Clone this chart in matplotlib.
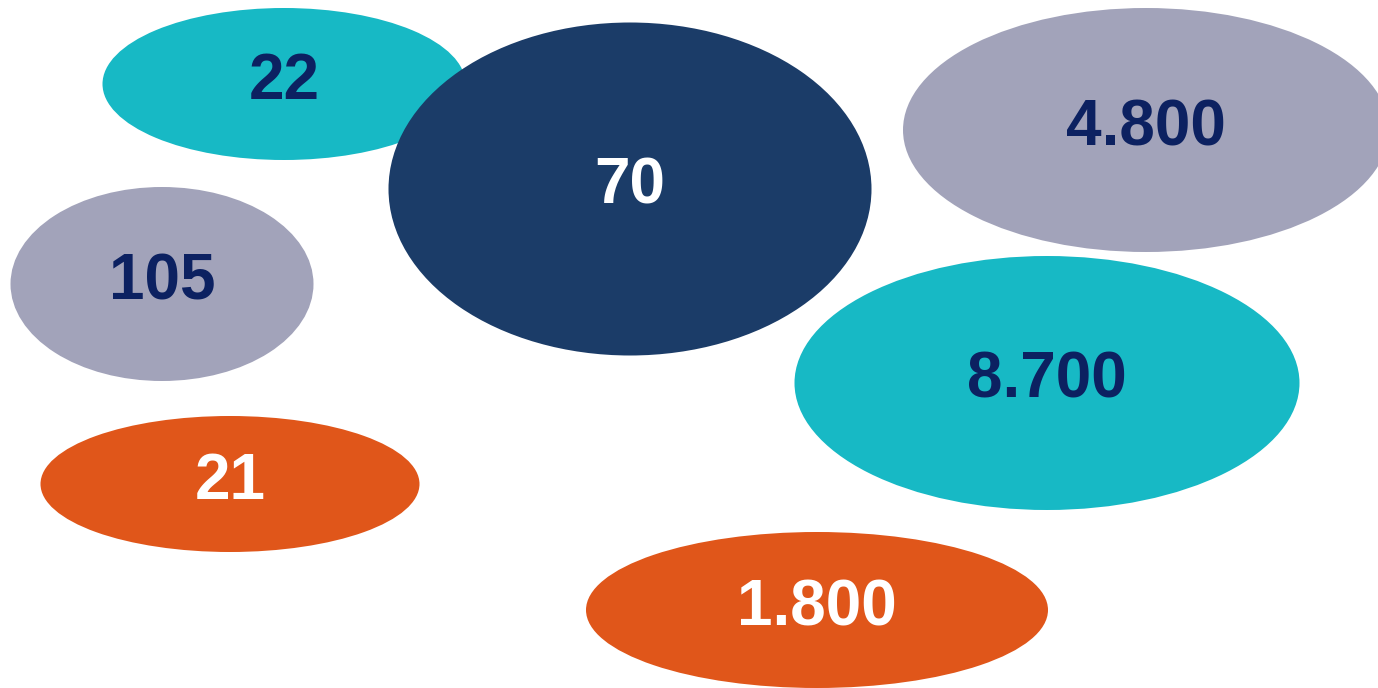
import matplotlib
matplotlib.use('Agg')
import matplotlib.pyplot as plt
from matplotlib.patches import Ellipse

# bubble labels and their layout (pixel space, y down)
labels = ['22', '70', '4.800', '105', '8.700', '21', '1.800']
x_pos = [284, 630, 1146, 162, 1047, 230, 817]
y_pos = [84, 189, 130, 284, 383, 484, 610]
widths = [363, 483, 486, 303, 505, 379, 462]
heights = [152, 333, 244, 194, 254, 136, 156]
fills = ['#17b9c5', '#1b3c68', '#a2a3ba', '#a2a3ba', '#17b9c5', '#e0561a', '#e0561a']
text_colors = ['#0c2161', 'white', '#0c2161', '#0c2161', '#0c2161', 'white', 'white']

fig = plt.figure(figsize=(13.78, 6.88), dpi=100)
ax = fig.add_axes([0, 0, 1, 1])
ax.set_xlim(0, 1378)
ax.set_ylim(688, 0)
ax.axis('off')

for lab, x, y, w, h, fc, tc in zip(labels, x_pos, y_pos, widths, heights, fills, text_colors):
    ax.add_patch(Ellipse((x, y), w, h, facecolor=fc, edgecolor='none'))
    ax.text(x, y + 15, lab, ha='center', va='baseline', color=tc,
            fontsize=46, fontweight='bold', family='Liberation Sans')

fig.savefig('out.png', dpi=100)
